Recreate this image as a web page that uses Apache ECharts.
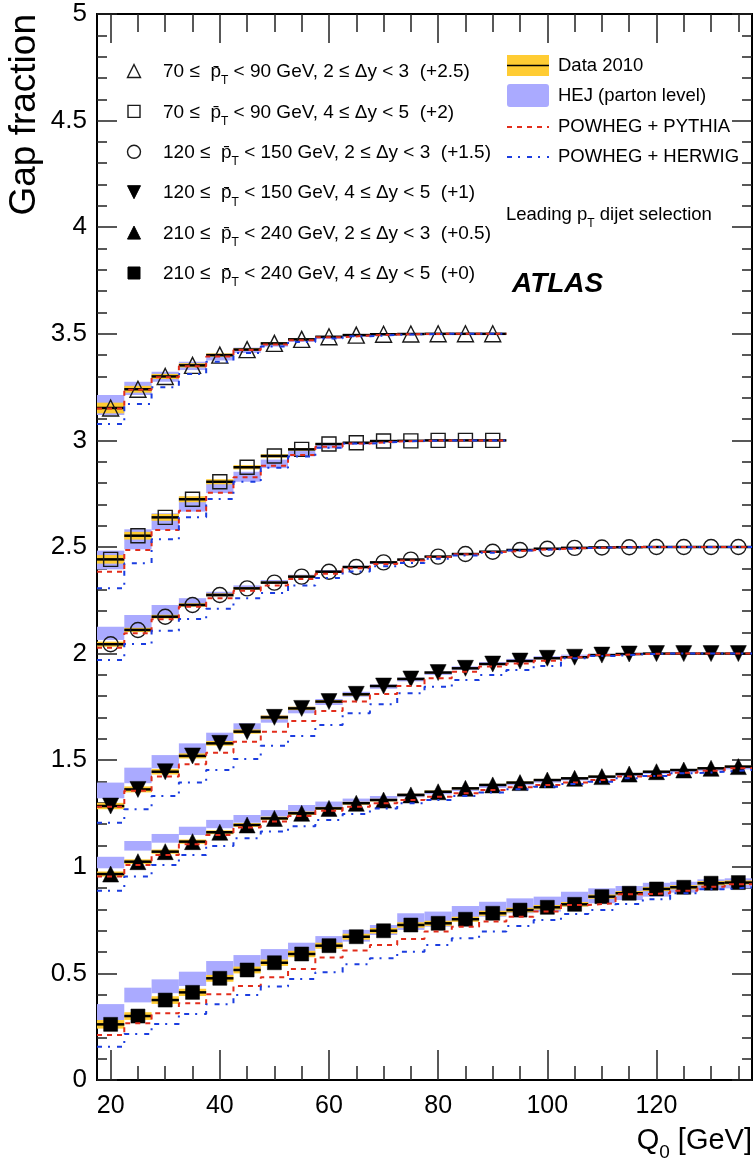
<!DOCTYPE html>
<html><head><meta charset="utf-8">
<script src="https://cdn.jsdelivr.net/npm/echarts@6/dist/echarts.min.js"></script>
<style>html,body{margin:0;padding:0;background:#fff}#c{width:753px;height:1164px}</style>
</head><body><div id="c"></div>
<script>
// ---- data (raw gap fractions; plotted = value + offset) ----
const q = [20,25,30,35,40,45,50,55,60,65,70,75,80,85,90,95,100,105,110,115,120,125,130,135];
const offsets = [2.5, 2, 1.5, 1, 0.5, 0];
const groupLabels = [
  '70 ≤  {b|p\u0304}{s|T} < 90 GeV, 2 ≤ Δy < 3  (+2.5)',
  '70 ≤  {b|p\u0304}{s|T} < 90 GeV, 4 ≤ Δy < 5  (+2)',
  '120 ≤  {b|p\u0304}{s|T} < 150 GeV, 2 ≤ Δy < 3  (+1.5)',
  '120 ≤  {b|p\u0304}{s|T} < 150 GeV, 4 ≤ Δy < 5  (+1)',
  '210 ≤  {b|p\u0304}{s|T} < 240 GeV, 2 ≤ Δy < 3  (+0.5)',
  '210 ≤  {b|p\u0304}{s|T} < 240 GeV, 4 ≤ Δy < 5  (+0)'
];
const xTickMajor = [20,40,60,80,100,120];
const xTickMinor = [25,30,35,45,50,55,65,70,75,85,90,95,105,110,115,125,130,135];

const data1   = [0.652,0.740,0.800,0.852,0.900,0.926,0.955,0.974,0.986,0.994,0.998,0.999,1.000,1.000,1.000];
const err1    = [0.025,0.016,0.012,0.010,0.008,0.006,0.005,0.004,0.003,0.002,0.002,0.001,0.001,0.001,0.001];
const hejLo1  = [0.619,0.713,0.775,0.830,0.875,0.910,0.940,0.962,0.976,0.986,0.992,0.995,0.997,0.998,0.998];
const hejHi1  = [0.713,0.775,0.822,0.869,0.905,0.935,0.960,0.978,0.990,0.997,1.000,1.000,1.000,1.000,1.000];
const pythia1 = [0.650,0.738,0.796,0.848,0.893,0.924,0.950,0.970,0.984,0.992,0.997,0.999,1.000,1.000,1.000];
const herwig1 = [0.577,0.671,0.749,0.811,0.869,0.910,0.940,0.962,0.978,0.988,0.995,0.998,1.000,1.000,1.000];

const data2   = [0.442,0.553,0.639,0.724,0.806,0.874,0.927,0.958,0.983,0.989,0.997,0.998,1.000,1.000,1.000];
const err2    = [0.020,0.018,0.016,0.014,0.012,0.010,0.008,0.006,0.004,0.003,0.002,0.001,0.001,0.001,0.001];
const hejLo2  = [0.395,0.489,0.580,0.666,0.753,0.806,0.870,0.925,0.962,0.980,0.990,0.995,0.997,0.998,0.998];
const hejHi2  = [0.483,0.583,0.658,0.736,0.800,0.853,0.910,0.950,0.978,0.990,0.997,1.000,1.000,1.000,1.000];
const pythia2 = [0.384,0.486,0.580,0.670,0.755,0.827,0.881,0.932,0.970,0.986,0.995,0.998,1.000,1.000,1.000];
const herwig2 = [0.306,0.424,0.536,0.639,0.725,0.806,0.872,0.925,0.965,0.985,0.993,0.998,1.000,1.000,1.000];

const data3   = [0.544,0.611,0.673,0.728,0.775,0.806,0.833,0.861,0.884,0.906,0.928,0.941,0.955,0.967,0.978,0.986,0.992,0.996,0.998,0.999,1.000,1.000,1.000,1.000];
const err3    = [0.012,0.010,0.009,0.008,0.007,0.006,0.005,0.005,0.004,0.004,0.003,0.003,0.002,0.002,0.002,0.001,0.001,0.001,0.001,0.001,0.001,0.001,0.001,0.001];
const hejLo3  = [0.564,0.619,0.681,0.720,0.765,0.800,0.830,0.855,0.880,0.900,0.920,0.935,0.950,0.962,0.975,0.983,0.988,0.993,0.996,0.997,0.998,0.998,0.998,0.998];
const hejHi3  = [0.626,0.681,0.728,0.760,0.790,0.820,0.845,0.870,0.892,0.912,0.930,0.945,0.958,0.970,0.980,0.988,0.994,0.998,1.000,1.000,1.000,1.000,1.000,1.000];
const pythia3 = [0.528,0.595,0.661,0.720,0.760,0.795,0.820,0.850,0.875,0.900,0.920,0.937,0.953,0.966,0.977,0.985,0.991,0.995,0.998,1.000,1.000,1.000,1.000,1.000];
const herwig3 = [0.470,0.545,0.607,0.662,0.710,0.760,0.784,0.820,0.855,0.885,0.910,0.925,0.945,0.960,0.973,0.983,0.990,0.995,0.998,1.000,1.000,1.000,1.000,1.000];

const data4   = [0.285,0.363,0.446,0.520,0.579,0.634,0.701,0.743,0.775,0.809,0.848,0.881,0.911,0.931,0.951,0.965,0.978,0.983,0.993,0.998,1.000,1.000,1.000,1.000];
const err4    = [0.015,0.014,0.013,0.012,0.011,0.010,0.009,0.008,0.007,0.006,0.005,0.005,0.004,0.003,0.003,0.002,0.002,0.002,0.001,0.001,0.001,0.001,0.001,0.001];
const hejLo4  = [0.321,0.392,0.462,0.520,0.579,0.634,0.676,0.720,0.759,0.798,0.835,0.870,0.900,0.925,0.948,0.965,0.980,0.990,0.995,0.997,0.998,0.998,0.998,0.998];
const hejHi4  = [0.395,0.465,0.524,0.579,0.629,0.673,0.712,0.751,0.787,0.821,0.855,0.888,0.918,0.940,0.960,0.975,0.988,0.995,0.999,1.000,1.000,1.000,1.000,1.000];
const pythia4 = [0.282,0.357,0.423,0.481,0.535,0.587,0.634,0.684,0.731,0.775,0.811,0.848,0.884,0.915,0.939,0.954,0.967,0.983,0.993,0.998,1.000,1.000,1.000,1.000];
const herwig4 = [0.207,0.270,0.332,0.395,0.454,0.506,0.568,0.614,0.665,0.720,0.762,0.814,0.845,0.876,0.900,0.923,0.942,0.978,0.989,0.997,1.000,1.000,1.000,1.000];

const data5   = [0.466,0.524,0.571,0.618,0.662,0.696,0.727,0.751,0.774,0.798,0.813,0.837,0.852,0.868,0.884,0.895,0.907,0.915,0.923,0.935,0.946,0.954,0.962,0.970];
const err5    = [0.012,0.011,0.010,0.010,0.009,0.009,0.008,0.008,0.007,0.007,0.006,0.006,0.006,0.005,0.005,0.005,0.005,0.004,0.004,0.004,0.004,0.004,0.004,0.004];
const hejLo5  = [0.493,0.576,0.613,0.649,0.681,0.707,0.735,0.750,0.774,0.798,0.812,0.826,0.840,0.855,0.870,0.882,0.895,0.905,0.915,0.925,0.935,0.943,0.950,0.957];
const hejHi5  = [0.547,0.621,0.654,0.688,0.720,0.743,0.766,0.790,0.806,0.820,0.832,0.844,0.856,0.870,0.885,0.896,0.907,0.916,0.926,0.936,0.945,0.953,0.960,0.967];
const pythia5 = [0.454,0.508,0.555,0.606,0.649,0.684,0.712,0.738,0.763,0.782,0.798,0.813,0.829,0.845,0.860,0.873,0.884,0.895,0.907,0.923,0.931,0.941,0.951,0.962];
const herwig5 = [0.388,0.454,0.508,0.555,0.598,0.634,0.665,0.690,0.720,0.748,0.774,0.798,0.813,0.832,0.848,0.864,0.876,0.888,0.899,0.915,0.926,0.939,0.946,0.954];

const data6   = [0.261,0.300,0.375,0.411,0.477,0.516,0.550,0.591,0.630,0.672,0.700,0.727,0.735,0.754,0.782,0.797,0.810,0.824,0.860,0.876,0.896,0.904,0.923,0.926];
const err6    = [0.020,0.018,0.018,0.017,0.016,0.016,0.015,0.015,0.014,0.014,0.013,0.013,0.012,0.012,0.012,0.011,0.011,0.011,0.010,0.010,0.010,0.010,0.010,0.010];
const hejLo6  = [0.281,0.364,0.407,0.441,0.492,0.524,0.555,0.586,0.618,0.649,0.680,0.704,0.719,0.743,0.766,0.782,0.790,0.813,0.829,0.844,0.860,0.879,0.891,0.899];
const hejHi6  = [0.356,0.433,0.472,0.508,0.558,0.586,0.614,0.644,0.675,0.704,0.727,0.782,0.790,0.816,0.836,0.852,0.860,0.883,0.899,0.910,0.925,0.930,0.941,0.946];
const pythia6 = [0.211,0.266,0.313,0.360,0.402,0.441,0.482,0.521,0.574,0.607,0.633,0.661,0.696,0.719,0.743,0.766,0.790,0.821,0.829,0.871,0.876,0.888,0.907,0.918];
const herwig6 = [0.156,0.216,0.263,0.310,0.355,0.399,0.438,0.474,0.505,0.543,0.571,0.602,0.633,0.665,0.696,0.722,0.750,0.779,0.797,0.826,0.848,0.876,0.895,0.904];

// ---- styling ----
const FONT = 'Liberation Sans, Arial, Helvetica, sans-serif';
const C_YEL = '#ffcc33', C_HEJ = '#aaaaff', C_PY = '#e22d1b', C_HW = '#1b3de0';
const DASH_PY = [5,5], DASH_HW = [5,6,2,7];
const groups = [
  {data:data1, err:err1, lo:hejLo1, hi:hejHi1, py:pythia1, hw:herwig1, sym:'triangle', rot:0,   filled:false, size:16},
  {data:data2, err:err2, lo:hejLo2, hi:hejHi2, py:pythia2, hw:herwig2, sym:'rect',     rot:0,   filled:false, size:14},
  {data:data3, err:err3, lo:hejLo3, hi:hejHi3, py:pythia3, hw:herwig3, sym:'circle',   rot:0,   filled:false, size:15},
  {data:data4, err:err4, lo:hejLo4, hi:hejHi4, py:pythia4, hw:herwig4, sym:'triangle', rot:180, filled:true,  size:16},
  {data:data5, err:err5, lo:hejLo5, hi:hejHi5, py:pythia5, hw:herwig5, sym:'triangle', rot:0,   filled:true,  size:16},
  {data:data6, err:err6, lo:hejLo6, hi:hejHi6, py:pythia6, hw:herwig6, sym:'rect',     rot:0,   filled:true,  size:14}
];
const hb = (q[1] - q[0]) / 2;

function bandSeries(rows, color) {
  return {
    type:'custom', silent:true, data: rows, encode:{x:0, y:[1,2]},
    renderItem: (params, api) => {
      const a = api.coord([api.value(0) - hb, api.value(2)]);
      const b = api.coord([api.value(0) + hb, api.value(1)]);
      return {type:'rect', shape:{x:a[0], y:a[1], width:b[0]-a[0], height:Math.max(b[1]-a[1], 0.5)}, style:{fill:color}};
    }
  };
}
function stepSeries(vals, off, color, dash) {
  const pts = vals.map((v, i) => [q[i] - hb, v + off]);
  pts.push([q[vals.length - 1] + hb, vals[vals.length - 1] + off]);
  return {type:'line', step:'end', data:pts, symbol:'none', silent:true,
          lineStyle:{color:color, width:2, type:dash}, z:5};
}

const series = [];
groups.forEach((g, k) => {
  const off = offsets[k];
  series.push(bandSeries(g.lo.map((v, i) => [q[i], v + off, g.hi[i] + off]), C_HEJ));
});
groups.forEach((g, k) => {
  const off = offsets[k];
  series.push(bandSeries(g.data.map((v, i) => [q[i], v - g.err[i] + off, v + g.err[i] + off]), C_YEL));
});
groups.forEach((g, k) => {
  const off = offsets[k];
  series.push({
    type:'custom', silent:true, data: g.data.map((v, i) => [q[i], v + off]), encode:{x:0, y:1}, z:3,
    renderItem: (params, api) => {
      const a = api.coord([api.value(0) - hb, api.value(1)]);
      const b = api.coord([api.value(0) + hb, api.value(1)]);
      return {type:'line', shape:{x1:a[0], y1:a[1], x2:b[0], y2:b[1]}, style:{stroke:'#000', lineWidth:2.5}};
    }
  });
});
groups.forEach((g, k) => {
  const off = offsets[k];
  series.push({
    type:'scatter', silent:true, z:4, data: g.data.map((v, i) => [q[i], v + off]),
    symbol:g.sym, symbolRotate:g.rot, symbolSize:g.size,
    itemStyle: g.filled ? {color:'#000', borderColor:'#000', borderWidth:0.5, opacity:1}
                        : {color:'rgba(0,0,0,0)', borderColor:'#1a1a1a', borderWidth:1.4, opacity:1}
  });
});
groups.forEach((g, k) => series.push(stepSeries(g.py, offsets[k], C_PY, DASH_PY)));
groups.forEach((g, k) => series.push(stepSeries(g.hw, offsets[k], C_HW, DASH_HW)));

// ---- axes ----
const axLine = {show:true, lineStyle:{color:'#000', width:2}};
function xAx(pos, ticks, len, labels) {
  return {type:'value', position:pos, min:17.5, max:137.5, axisLine: axLine,
    axisTick:{show:true, inside:true, length:len, customValues:ticks, lineStyle:{color:'#222', width:1.5}},
    axisLabel: labels ? {show:true, customValues:ticks, fontSize:25, fontFamily:FONT, color:'#000', margin:14} : {show:false},
    splitLine:{show:false}};
}
function yAx(pos, labels) {
  return {type:'value', position:pos, min:0, max:5, interval:0.5, axisLine: axLine,
    axisTick:{show:true, inside:true, length:20, lineStyle:{color:'#222', width:1.5}},
    minorTick:{show:true, splitNumber:5, length:10, lineStyle:{color:'#222', width:1.5}},
    axisLabel: labels ? {show:true, fontSize:26, fontFamily:FONT, color:'#000', margin:10} : {show:false},
    splitLine:{show:false}, minorSplitLine:{show:false}};
}

// ---- legend graphics ----
const graphics = [];
const subRich = {
  b:{fontSize:19, fontFamily:FONT, fill:'#000'},
  s:{fontSize:12, fontFamily:FONT, verticalAlign:'bottom', lineHeight:12}
};
groups.forEach((g, k) => {
  const y = 71 + k * 40.4, x = 134, r = 6.5;
  const st = g.filled ? {fill:'#000', stroke:'#000', lineWidth:1} : {fill:'none', stroke:'#1a1a1a', lineWidth:1.4};
  let shape;
  if (g.sym === 'triangle' && g.rot === 0) shape = {type:'polygon', shape:{points:[[x, y-r],[x-r, y+r],[x+r, y+r]]}, style:st};
  else if (g.sym === 'triangle') shape = {type:'polygon', shape:{points:[[x-r, y-r],[x+r, y-r],[x, y+r]]}, style:st};
  else if (g.sym === 'rect') shape = {type:'rect', shape:{x:x-6, y:y-6, width:12, height:12}, style:st};
  else shape = {type:'circle', shape:{cx:x, cy:y, r:6.5}, style:st};
  graphics.push(shape);
  graphics.push({type:'text', x:163, y:y + 1, style:{text:groupLabels[k], fontSize:19, fontFamily:FONT, fill:'#000',
    verticalAlign:'middle', lineHeight:30, rich:subRich}});
});
// right legend
graphics.push({type:'rect', shape:{x:507, y:55, width:42, height:21}, style:{fill:C_YEL}});
graphics.push({type:'line', shape:{x1:507, y1:65.5, x2:549, y2:65.5}, style:{stroke:'#000', lineWidth:1.5}});
graphics.push({type:'rect', shape:{x:507, y:84, width:42, height:23, r:3}, style:{fill:C_HEJ}});
graphics.push({type:'line', shape:{x1:507, y1:127, x2:549, y2:127}, style:{stroke:C_PY, lineWidth:2, lineDash:DASH_PY}});
graphics.push({type:'line', shape:{x1:507, y1:157, x2:549, y2:157}, style:{stroke:C_HW, lineWidth:2, lineDash:DASH_HW}});
[['Data 2010', 66], ['HEJ (parton level)', 96], ['POWHEG + PYTHIA', 127], ['POWHEG + HERWIG', 157]].forEach(t => {
  graphics.push({type:'text', x:558, y:t[1], style:{text:t[0], fontSize:18.5, fontFamily:FONT, fill:'#000', verticalAlign:'middle'}});
});
graphics.push({type:'text', x:506, y:215, style:{text:'Leading p{s|T} dijet selection', fontSize:18.5, fontFamily:FONT, fill:'#000',
  verticalAlign:'middle', lineHeight:30, rich:{s:{fontSize:12, fontFamily:FONT, verticalAlign:'bottom', lineHeight:12}}}});
graphics.push({type:'text', x:512, y:284, style:{text:'ATLAS', font:'italic bold 28px ' + FONT, fill:'#000', verticalAlign:'middle'}});
// axis titles
graphics.push({type:'text', x:752, y:1141, style:{text:'Q{s|0} [GeV]', fontSize:29, fontFamily:FONT, fill:'#000',
  align:'right', verticalAlign:'middle', lineHeight:42, rich:{s:{fontSize:19, fontFamily:FONT, verticalAlign:'bottom', lineHeight:19}}}});
graphics.push({type:'text', x:25, y:14, rotation:Math.PI/2, style:{text:'Gap fraction', fontSize:37, fontFamily:FONT, fill:'#000',
  align:'right', verticalAlign:'middle'}});

const chart = echarts.init(document.getElementById('c'), null, {renderer:'canvas'});
chart.setOption({
  animation:false,
  backgroundColor:'#fff',
  grid:{left:97, right:1, top:14, bottom:84, containLabel:false},
  xAxis:[xAx('bottom', xTickMajor, 30, true), xAx('bottom', xTickMinor, 14, false),
         xAx('top', xTickMajor, 29, false), xAx('top', xTickMinor, 18, false)],
  yAxis:[yAx('left', true), yAx('right', false)],
  series: series,
  graphic: graphics
});
</script></body></html>
